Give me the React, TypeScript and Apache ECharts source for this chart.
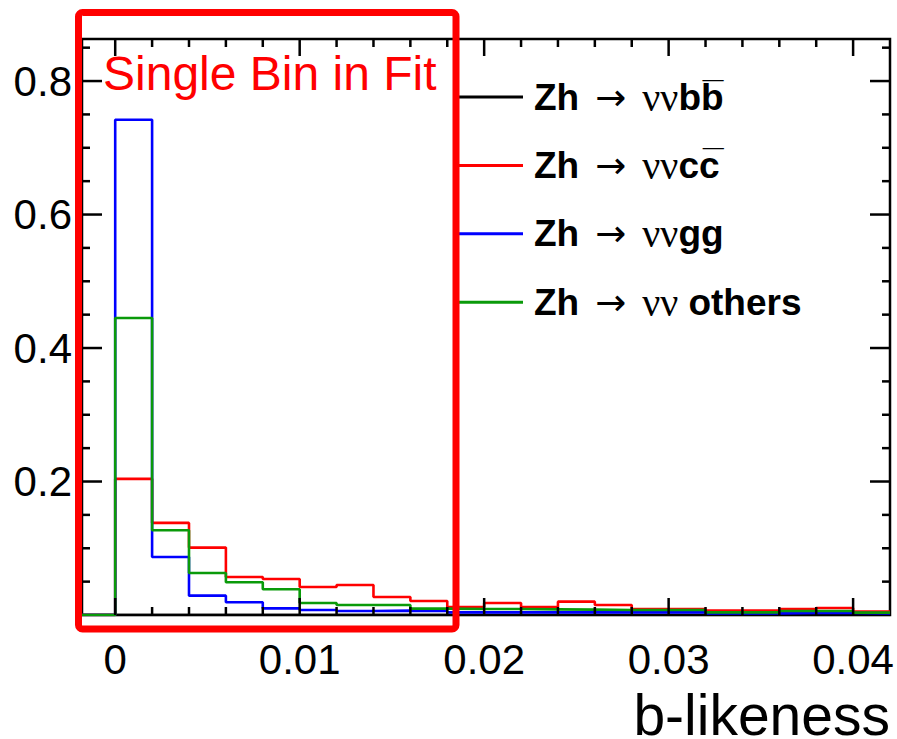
import React, { useEffect, useRef } from "react";
import * as echarts from "echarts";

// ---- data -----------------------------------------------------------
const binEdges = [
  -0.002, 0, 0.002, 0.004, 0.006, 0.008, 0.01, 0.012, 0.014, 0.016, 0.018, 0.02,
  0.022, 0.024, 0.026, 0.028, 0.03, 0.032, 0.034, 0.036, 0.038, 0.04, 0.042,
];
const bbValues = [
  0, 0, 0, 0, 0, 0, 0, 0, 0, 0, 0, 0, 0, 0, 0, 0, 0, 0, 0, 0, 0, 0,
];
const ccValues = [
  0, 0.204, 0.138, 0.101, 0.057, 0.054, 0.042, 0.045, 0.027, 0.021, 0.012,
  0.018, 0.012, 0.02, 0.015, 0.009, 0.009, 0.0065, 0.0065, 0.009, 0.0105, 0.005,
];
const ggValues = [
  0, 0.742, 0.087, 0.029, 0.019, 0.01, 0.0075, 0.006, 0.0065, 0.006, 0.004,
  0.004, 0.004, 0.004, 0.004, 0.004, 0.004, 0.0025, 0.0025, 0.003, 0.003, 0.0025,
];
const othersValues = [
  0, 0.445, 0.127, 0.063, 0.049, 0.0385, 0.018, 0.015, 0.015, 0.0095, 0.009,
  0.009, 0.0085, 0.008, 0.0075, 0.0075, 0.0075, 0.004, 0.004, 0.006, 0.006, 0.0035,
];
const seriesNames = ["Zh → ννbb̄", "Zh → ννcc̄", "Zh → ννgg", "Zh → νν others"];
const legendRich = [
  "{lead|Zh}{a|→}{s|νν}{p|bb\u0305}",
  "{lead|Zh}{a|→}{s|νν}{p|cc\u0305}",
  "{lead|Zh}{a|→}{s|νν}{p|gg}",
  "{lead|Zh}{a|→}{s|νν }{p|others}",
];
const seriesColors = ["#000000", "#ff0000", "#0000ff", "#0a9a0a"];

const xMajorTicks = [0, 0.01, 0.02, 0.03, 0.04];
const xTickLabels = ["0", "0.01", "0.02", "0.03", "0.04"];
const xMinorTicks = [
  0.002, 0.004, 0.006, 0.008, 0.012, 0.014, 0.016, 0.018, 0.022, 0.024, 0.026,
  0.028, 0.032, 0.034, 0.036, 0.038,
];
const yMajorTicks = [0.2, 0.4, 0.6, 0.8];
const yTickLabels = ["0.2", "0.4", "0.6", "0.8"];
const yMinorTicks = [
  0.05, 0.1, 0.15, 0.25, 0.3, 0.35, 0.45, 0.5, 0.55, 0.65, 0.7, 0.75, 0.85,
];

const xLabel = "b-likeness";
const boxTitle = "Single Bin in Fit";

// ---- helpers -----------------------------------------------------------
const SANS = '"Liberation Sans", Arial, Helvetica, sans-serif';
const SERIF = '"Liberation Serif", "Times New Roman", serif';
const ARROW = '"DejaVu Sans", sans-serif';
const TICK_W = 2.5;

function histData(values: number[]) {
  return binEdges.map((e, i) => [e, values[Math.min(i, values.length - 1)]]);
}

function xTickSeries(ticks: number[], major: boolean, labels?: string[]) {
  return {
    type: "custom",
    silent: true,
    z: 5,
    data: ticks.map((t) => [t, 0]),
    renderItem: (params: any, api: any) => {
      const cs = params.coordSys;
      const px = api.coord([api.value(0), 0])[0];
      const L = major ? 17 : 8;
      const bottom = cs.y + cs.height;
      const children: any[] = [
        { type: "line", shape: { x1: px, y1: bottom, x2: px, y2: bottom - L }, style: { stroke: "#000", lineWidth: TICK_W } },
        { type: "line", shape: { x1: px, y1: cs.y, x2: px, y2: cs.y + L }, style: { stroke: "#000", lineWidth: TICK_W } },
      ];
      if (labels) {
        children.push({
          type: "text",
          x: px,
          y: bottom + 44,
          style: {
            text: labels[params.dataIndex],
            fill: "#000",
            font: `42px ${SANS}`,
            align: "center",
            verticalAlign: "middle",
          },
        });
      }
      return { type: "group", children };
    },
  };
}

function yTickSeries(ticks: number[], major: boolean, labels?: string[]) {
  return {
    type: "custom",
    silent: true,
    z: 5,
    data: ticks.map((t) => [0, t]),
    renderItem: (params: any, api: any) => {
      const cs = params.coordSys;
      const py = api.coord([0, api.value(1)])[1];
      const L = major ? 20 : 8;
      const right = cs.x + cs.width;
      const children: any[] = [
        { type: "line", shape: { x1: cs.x, y1: py, x2: cs.x + L, y2: py }, style: { stroke: "#000", lineWidth: TICK_W } },
        { type: "line", shape: { x1: right, y1: py, x2: right - L, y2: py }, style: { stroke: "#000", lineWidth: TICK_W } },
      ];
      if (labels) {
        children.push({
          type: "text",
          x: cs.x - 10,
          y: py,
          style: {
            text: labels[params.dataIndex],
            fill: "#000",
            font: `42px ${SANS}`,
            align: "right",
            verticalAlign: "middle",
          },
        });
      }
      return { type: "group", children };
    },
  };
}

export default function App() {
  const ref = useRef<HTMLDivElement>(null);

  useEffect(() => {
    if (!ref.current) return;
    const chart = echarts.init(ref.current, undefined, { renderer: "svg" });
    const allValues = [bbValues, ccValues, ggValues, othersValues];

    const option: any = {
      animation: false,
      backgroundColor: "#ffffff",
      grid: {
        left: 82,
        right: 7,
        top: 39,
        bottom: 124,
        show: true,
        borderColor: "#000",
        borderWidth: 2.5,
        backgroundColor: "transparent",
      },
      xAxis: {
        type: "value",
        min: -0.0018,
        max: 0.042,
        axisLine: { show: false },
        axisTick: { show: false },
        axisLabel: { show: false },
        splitLine: { show: false },
      },
      yAxis: {
        type: "value",
        min: 0,
        max: 0.863,
        axisLine: { show: false },
        axisTick: { show: false },
        axisLabel: { show: false },
        splitLine: { show: false },
      },
      legend: {
        orient: "vertical",
        left: 458,
        top: 77,
        padding: 0,
        itemWidth: 65,
        itemHeight: 3,
        itemGap: 28.4,
        icon: "rect",
        selectedMode: false,
        data: seriesNames,
        formatter: (name: string) => legendRich[seriesNames.indexOf(name)],
        textStyle: {
          rich: {
            lead: { fontFamily: SANS, fontWeight: "bold", fontSize: 37, lineHeight: 40, color: "#000", padding: [0, 0, 0, 6] },
            a: { fontFamily: ARROW, fontSize: 37, lineHeight: 40, color: "#000", padding: [0, 12, 0, 16] },
            s: { fontFamily: SERIF, fontSize: 40, lineHeight: 40, color: "#000", padding: [0, 0, 0, 4] },
            p: { fontFamily: SANS, fontWeight: "bold", fontSize: 37, lineHeight: 40, color: "#000" },
          },
        },
      },
      series: [
        ...allValues.map((vals, i) => ({
          name: seriesNames[i],
          type: "line",
          step: "end",
          symbol: "none",
          color: seriesColors[i],
          lineStyle: { color: seriesColors[i], width: 2.6 },
          data: histData(vals),
          z: 3 + i * 0.1,
        })),
        xTickSeries(xMinorTicks, false),
        xTickSeries(xMajorTicks, true, xTickLabels),
        yTickSeries(yMinorTicks, false),
        yTickSeries(yMajorTicks, true, yTickLabels),
      ],
      graphic: [
        {
          type: "text",
          z: 50,
          x: 890,
          y: 714.5,
          style: {
            text: xLabel,
            fill: "#000",
            font: `57px ${SANS}`,
            lineHeight: 44,
            align: "right",
            verticalAlign: "middle",
          },
        },
        {
          type: "rect",
          z: 100,
          shape: { x: 78.5, y: 12.5, width: 377.5, height: 616.5, r: 4 },
          style: { fill: "none", stroke: "#ff0000", lineWidth: 7 },
        },
        {
          type: "text",
          z: 101,
          x: 103,
          y: 73.5,
          style: {
            text: boxTitle,
            fill: "#ff0000",
            font: `48px ${SANS}`,
            align: "left",
            verticalAlign: "middle",
          },
        },
      ],
    };
    chart.setOption(option);
    return () => chart.dispose();
  }, []);

  return (
    <div
      ref={ref}
      style={{ position: "fixed", left: 0, top: 0, width: 897, height: 739 }}
    />
  );
}
